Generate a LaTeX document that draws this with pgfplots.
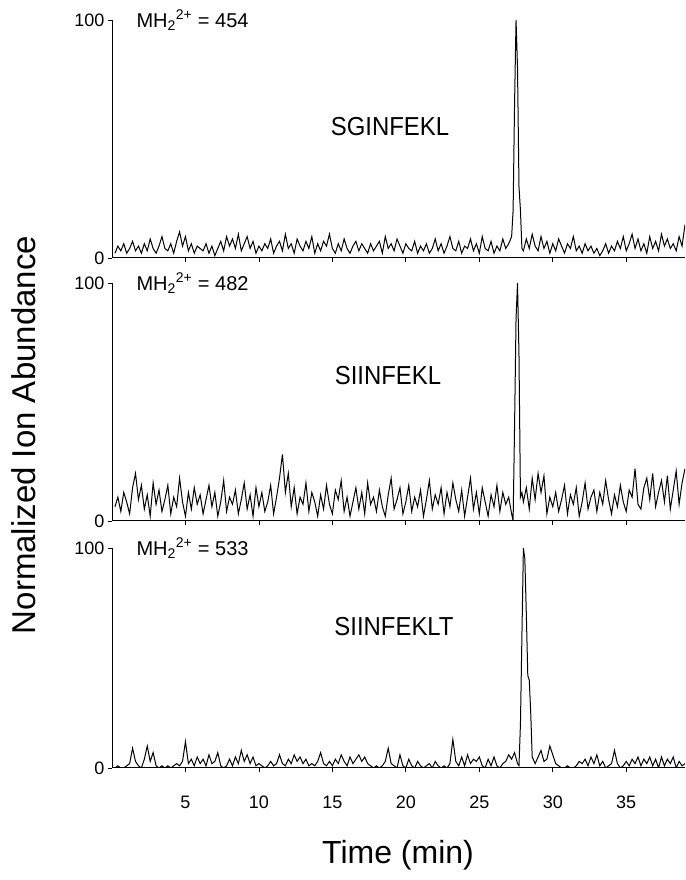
\documentclass[border=0pt]{standalone}
\usepackage{fontspec}
\setmainfont{Liberation Sans}
\newfontfamily\pepfont{Liberation Sans}[FakeStretch=0.92]
\usepackage{pgfplots}
\pgfplotsset{compat=1.18}
\begin{document}
\begin{tikzpicture}[x=1pt,y=1pt]
\pgfplotsset{
  panel/.style={
    scale only axis, width=573pt, anchor=south west,
    xmin=0, xmax=39, ymin=0, ymax=100,
    axis x line*=bottom, axis y line*=left,
    axis line style={line width=1pt},
    xtick={5,10,...,35}, ytick={0,100},
    tick align=outside, major tick length=4pt,
    tick style={line width=0.8pt, black},
    /pgf/number format/assume math mode=true,
    tick label style={font=\fontsize{18}{18}\selectfont},
    yticklabel style={xshift=0pt},
    xticklabel style={anchor=north, text height=13pt, text depth=0pt, yshift=-20pt},
  },
  trace/.style={black, line width=1pt, mark=none},
}
% ---------- panel 1 ----------
\begin{axis}[panel, at={(112pt,622pt)}, height=238pt, xticklabels={}]
\addplot[trace] coordinates {
(0.2,2)(0.4,5)(0.6,3)(0.8,6)(1.0,2)(1.2,4)(1.4,7)(1.6,3)(1.8,5)(2.0,2)
(2.2,6)(2.4,3)(2.6,8)(2.8,4)(3.0,2)(3.2,5)(3.4,9)(3.6,4)(3.8,3)(4.0,6)
(4.2,2)(4.4,7)(4.6,11)(4.8,5)(5.0,9)(5.2,3)(5.4,6)(5.6,2)(5.8,5)(6.0,4)
(6.2,3)(6.4,6)(6.6,2)(6.8,5)(7.0,1)(7.2,4)(7.4,7)(7.6,3)(7.8,9)(8.0,5)
(8.2,8)(8.4,4)(8.6,10)(8.8,3)(9.0,6)(9.2,9)(9.4,4)(9.6,7)(9.8,2)(10.0,5)
(10.2,3)(10.4,6)(10.6,4)(10.8,8)(11.0,2)(11.2,5)(11.4,7)(11.6,3)(11.8,10)(12.0,4)
(12.2,6)(12.4,2)(12.6,8)(12.8,5)(13.0,3)(13.2,7)(13.4,4)(13.6,9)(13.8,2)(14.0,6)
(14.2,3)(14.4,7)(14.6,5)(14.8,10)(15.0,4)(15.2,2)(15.4,6)(15.6,3)(15.8,8)(16.0,4)
(16.2,2)(16.4,5)(16.6,7)(16.8,3)(17.0,6)(17.2,4)(17.4,2)(17.6,6)(17.8,3)(18.0,5)
(18.2,7)(18.4,2)(18.6,9)(18.8,4)(19.0,6)(19.2,3)(19.4,8)(19.6,5)(19.8,2)(20.0,6)
(20.2,4)(20.4,3)(20.6,7)(20.8,2)(21.0,5)(21.2,3)(21.4,6)(21.6,2)(21.8,4)(22.0,8)
(22.2,3)(22.4,6)(22.6,2)(22.8,5)(23.0,9)(23.2,4)(23.4,3)(23.6,7)(23.8,2)(24.0,5)
(24.2,4)(24.4,8)(24.6,3)(24.8,6)(25.0,2)(25.2,9)(25.4,4)(25.6,3)(25.8,7)(26.0,2)
(26.2,5)(26.4,3)(26.6,8)(26.8,4)(27.0,6)(27.2,9)(27.3,20)(27.4,65)(27.5,100)(27.6,80)(27.7,30)(27.8,20)(27.9,4)(28.0,3)
(28.2,8)(28.4,4)(28.6,10)(28.8,5)(29.0,3)(29.2,9)(29.4,4)(29.6,7)(29.8,2)(30.0,6)
(30.2,3)(30.4,8)(30.6,5)(30.8,2)(31.0,6)(31.2,4)(31.4,9)(31.6,3)(31.8,5)(32.0,2)
(32.2,6)(32.4,3)(32.6,5)(32.8,2)(33.0,4)(33.2,1)(33.4,3)(33.6,6)(33.8,2)(34.0,5)
(34.2,3)(34.4,7)(34.6,4)(34.8,9)(35.0,3)(35.2,6)(35.4,10)(35.6,4)(35.8,8)(36.0,3)
(36.2,6)(36.4,2)(36.6,9)(36.8,4)(37.0,7)(37.2,3)(37.4,10)(37.6,5)(37.8,8)(38.0,4)
(38.2,6)(38.4,3)(38.6,9)(38.8,5)(39.0,14)
};
\end{axis}
% ---------- panel 2 ----------
\begin{axis}[panel, at={(112pt,359pt)}, height=238pt, xticklabels={}]
\addplot[trace] coordinates {
(0.2,6)(0.4,10)(0.6,4)(0.8,12)(1.0,8)(1.2,3)(1.4,14)(1.6,20)(1.8,9)(2.0,15)
(2.2,5)(2.4,11)(2.6,2)(2.8,16)(3.0,7)(3.2,13)(3.4,4)(3.6,9)(3.8,15)(4.0,3)
(4.2,10)(4.4,6)(4.6,18)(4.8,8)(5.0,2)(5.2,12)(5.4,5)(5.6,14)(5.8,7)(6.0,11)
(6.2,3)(6.4,9)(6.6,15)(6.8,6)(7.0,12)(7.2,2)(7.4,8)(7.6,17)(7.8,4)(8.0,10)
(8.2,7)(8.4,13)(8.6,3)(8.8,9)(9.0,16)(9.2,5)(9.4,11)(9.6,2)(9.8,14)(10.0,6)
(10.2,12)(10.4,4)(10.6,8)(10.8,15)(11.0,3)(11.2,10)(11.4,18)(11.6,28)(11.8,12)(12.0,20)
(12.2,6)(12.4,14)(12.6,3)(12.8,10)(13.0,7)(13.2,16)(13.4,4)(13.6,12)(13.8,8)(14.0,2)
(14.2,11)(14.4,5)(14.6,15)(14.8,7)(15.0,3)(15.2,13)(15.4,9)(15.6,17)(15.8,4)(16.0,10)
(16.2,2)(16.4,8)(16.6,14)(16.8,5)(17.0,12)(17.2,3)(17.4,16)(17.6,7)(17.8,10)(18.0,4)
(18.2,13)(18.4,6)(18.6,2)(18.8,11)(19.0,18)(19.2,5)(19.4,9)(19.6,14)(19.8,3)(20.0,8)
(20.2,15)(20.4,4)(20.6,10)(20.8,6)(21.0,13)(21.2,2)(21.4,9)(21.6,17)(21.8,5)(22.0,11)
(22.2,7)(22.4,14)(22.6,3)(22.8,12)(23.0,6)(23.2,16)(23.4,9)(23.6,4)(23.8,13)(24.0,2)
(24.2,10)(24.4,18)(24.6,5)(24.8,12)(25.0,3)(25.2,14)(25.4,8)(25.6,2)(25.8,11)(26.0,6)
(26.2,15)(26.4,4)(26.6,12)(26.8,7)(27.0,10)(27.2,3)(27.3,0)(27.4,40)(27.5,85)(27.6,100)(27.7,70)(27.8,10)(27.9,12)(28.0,8)
(28.2,14)(28.4,5)(28.6,18)(28.8,9)(29.0,20)(29.2,12)(29.4,19)(29.6,3)(29.8,10)(30.0,6)
(30.2,12)(30.4,4)(30.6,9)(30.8,15)(31.0,3)(31.2,11)(31.4,7)(31.6,14)(31.8,2)(32.0,8)
(32.2,16)(32.4,5)(32.6,10)(32.8,13)(33.0,4)(33.2,12)(33.4,7)(33.6,17)(33.8,9)(34.0,3)
(34.2,11)(34.4,6)(34.6,15)(34.8,8)(35.0,4)(35.2,13)(35.4,10)(35.6,22)(35.8,7)(36.0,5)
(36.2,14)(36.4,18)(36.6,9)(36.8,20)(37.0,6)(37.2,12)(37.4,17)(37.6,8)(37.8,19)(38.0,5)
(38.2,13)(38.4,21)(38.6,7)(38.8,16)(39.0,22)
};
\end{axis}
% ---------- panel 3 ----------
\begin{axis}[panel, at={(112pt,112pt)}, height=220pt]
\addplot[trace] coordinates {
(0.2,0)(0.4,1)(0.6,0)(0.8,0)(1.0,1)(1.2,2)(1.4,9)(1.6,3)(1.8,1)(2.0,0)
(2.2,4)(2.4,10)(2.6,3)(2.8,7)(3.0,1)(3.2,0)(3.4,1)(3.6,0)(3.8,1)(4.0,0)
(4.2,1)(4.4,2)(4.6,1)(4.8,3)(5.0,12)(5.2,2)(5.4,4)(5.6,1)(5.8,5)(6.0,2)
(6.2,4)(6.4,1)(6.6,6)(6.8,2)(7.0,3)(7.2,7)(7.4,1)(7.6,0)(7.8,1)(8.0,4)
(8.2,1)(8.4,5)(8.6,2)(8.8,8)(9.0,3)(9.2,6)(9.4,2)(9.6,5)(9.8,1)(10.0,2)
(10.2,1)(10.4,0)(10.6,1)(10.8,3)(11.0,1)(11.2,2)(11.4,6)(11.6,2)(11.8,1)(12.0,4)
(12.2,2)(12.4,6)(12.6,3)(12.8,5)(13.0,2)(13.2,4)(13.4,1)(13.6,2)(13.8,1)(14.0,3)
(14.2,7)(14.4,2)(14.6,1)(14.8,3)(15.0,1)(15.2,4)(15.4,2)(15.6,6)(15.8,3)(16.0,1)
(16.2,5)(16.4,2)(16.6,4)(16.8,6)(17.0,3)(17.2,5)(17.4,2)(17.6,1)(17.8,0)(18.0,1)
(18.2,0)(18.4,1)(18.6,3)(18.8,9)(19.0,2)(19.2,1)(19.4,0)(19.6,6)(19.8,1)(20.0,0)
(20.2,4)(20.4,1)(20.6,0)(20.8,3)(21.0,1)(21.2,0)(21.4,1)(21.6,2)(21.8,0)(22.0,3)
(22.2,1)(22.4,0)(22.6,1)(22.8,0)(23.0,2)(23.2,13)(23.4,3)(23.6,1)(23.8,5)(24.0,1)
(24.2,6)(24.4,2)(24.6,4)(24.8,3)(25.0,5)(25.2,1)(25.4,0)(25.6,4)(25.8,1)(26.0,5)
(26.2,1)(26.4,0)(26.6,2)(26.8,3)(27.0,6)(27.2,4)(27.4,7)(27.6,2)(27.7,1)
(27.8,20)(27.9,60)(28.0,100)(28.1,95)(28.2,70)(28.3,42)(28.4,40)(28.5,25)(28.6,5)(28.8,2)
(29.0,5)(29.2,8)(29.4,3)(29.6,4)(29.8,10)(30.0,6)(30.2,2)(30.4,1)(30.6,0)(30.8,0)
(31.0,1)(31.2,0)(31.4,0)(31.6,1)(31.8,3)(32.0,2)(32.2,4)(32.4,1)(32.6,5)(32.8,2)
(33.0,6)(33.2,1)(33.4,3)(33.6,0)(33.8,1)(34.0,2)(34.2,8)(34.4,2)(34.6,0)(34.8,1)
(35.0,3)(35.2,1)(35.4,4)(35.6,2)(35.8,5)(36.0,1)(36.2,4)(36.4,2)(36.6,5)(36.8,1)
(37.0,4)(37.2,0)(37.4,5)(37.6,1)(37.8,4)(38.0,2)(38.2,5)(38.4,0)(38.6,3)(38.8,1)(39.0,2)
};
\end{axis}
% ---------- labels ----------
\node[anchor=west, font=\fontsize{20}{20}\selectfont] at (133,860) {MH\textsubscript{2}\textsuperscript{2+} = 454};
\node[anchor=west, font=\fontsize{20}{20}\selectfont] at (133,597) {MH\textsubscript{2}\textsuperscript{2+} = 482};
\node[anchor=west, font=\fontsize{20}{20}\selectfont] at (133,332) {MH\textsubscript{2}\textsuperscript{2+} = 533};
\node[font=\pepfont\fontsize{26}{26}\selectfont] at (390,753) {SGINFEKL};
\node[font=\pepfont\fontsize{26}{26}\selectfont] at (388,504) {SIINFEKL};
\node[font=\pepfont\fontsize{26}{26}\selectfont] at (394,253) {SIINFEKLT};
\node[rotate=90, font=\fontsize{33}{33}\selectfont] at (24,445) {Normalized Ion Abundance};
\node[font=\fontsize{32}{32}\selectfont] at (398,25) {Time (min)};
\pgfresetboundingbox
\path[use as bounding box] (0,0) rectangle (685,880);
\end{tikzpicture}
\end{document}
